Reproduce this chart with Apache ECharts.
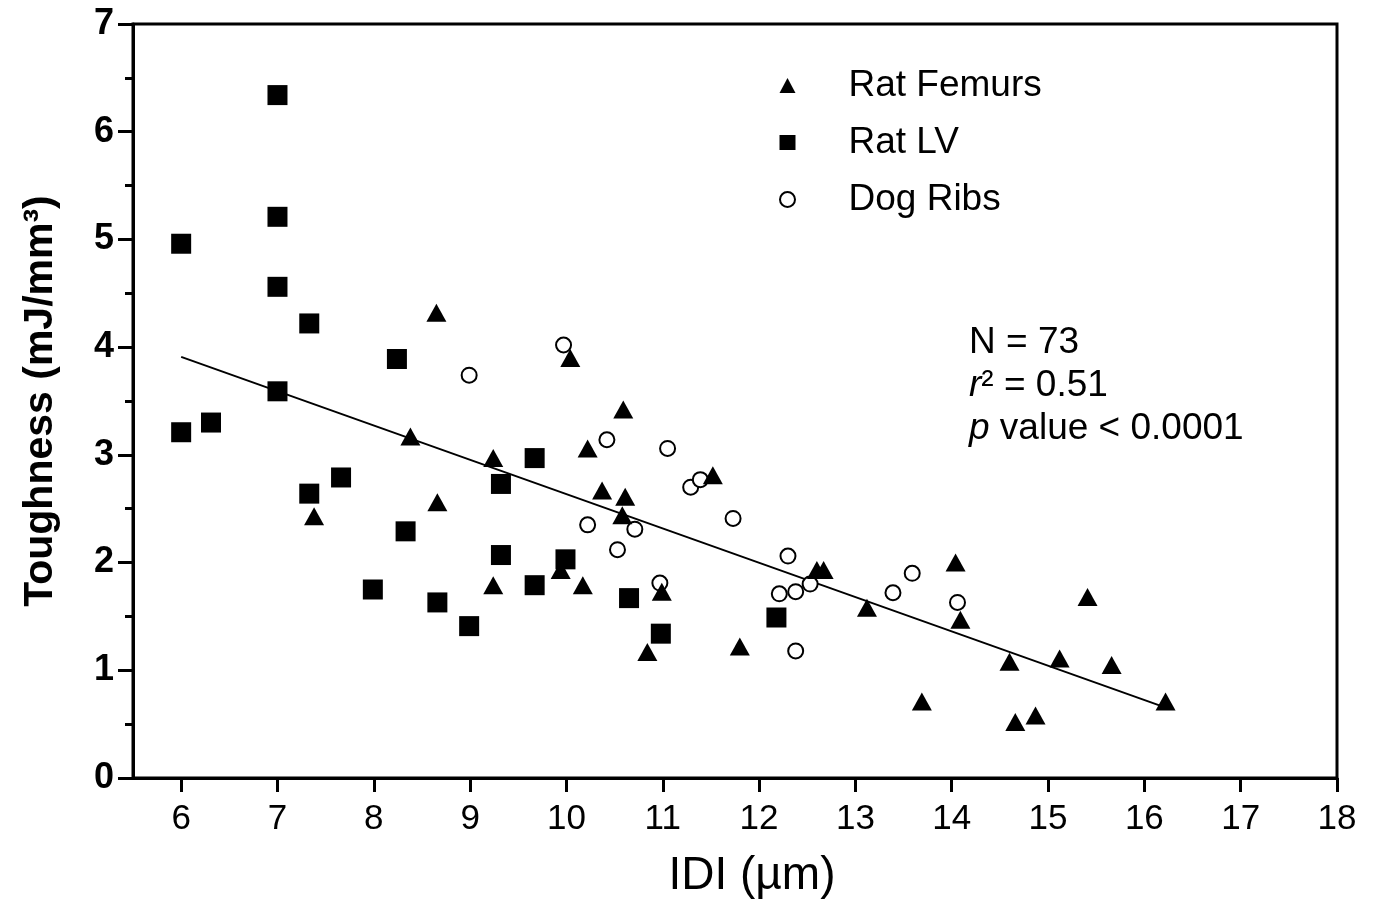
<!DOCTYPE html>
<html>
<head>
<meta charset="utf-8">
<script src="https://cdn.jsdelivr.net/npm/echarts@6/dist/echarts.min.js"></script>
<style>
  html, body { margin: 0; padding: 0; background: #fff; }
  #main { width: 1374px; height: 916px; }
</style>
</head>
<body>
<div id="main"></div>
<script>
// IDI (um) vs toughness (mJ/mm3)
var ratFemurs = [
  [8.65, 4.32], [8.38, 3.17], [7.38, 2.43], [8.66, 2.56], [9.24, 2.97],
  [9.24, 1.79], [10.04, 3.90], [10.59, 3.42], [10.22, 3.06], [10.37, 2.67],
  [10.61, 2.61], [10.58, 2.44], [11.52, 2.81], [9.94, 1.93], [10.17, 1.79],
  [10.99, 1.73], [10.84, 1.17], [11.80, 1.22], [12.60, 1.93], [12.67, 1.93],
  [13.12, 1.58], [14.04, 2.00], [14.09, 1.47], [13.69, 0.71], [14.60, 1.08],
  [14.66, 0.52], [14.87, 0.58], [15.12, 1.11], [15.41, 1.68], [15.66, 1.05],
  [16.22, 0.71]
];
var ratLV = [
  [6.00, 4.96], [6.00, 3.21], [6.31, 3.30], [7.00, 6.34], [7.00, 5.21],
  [7.00, 4.56], [7.00, 3.59], [7.33, 4.22], [7.33, 2.64], [7.66, 2.79],
  [8.24, 3.89], [7.99, 1.75], [8.33, 2.29], [8.66, 1.63], [8.99, 1.41],
  [9.32, 2.73], [9.32, 2.07], [9.67, 2.97], [9.67, 1.79], [9.99, 2.03],
  [10.65, 1.67], [10.98, 1.34], [12.18, 1.49]
];
var dogRibs = [
  [8.99, 3.74], [9.97, 4.02], [10.42, 3.14], [11.05, 3.06], [11.29, 2.70],
  [11.39, 2.77], [11.73, 2.41], [10.22, 2.35], [10.71, 2.31], [10.53, 2.12],
  [10.97, 1.81], [12.30, 2.06], [12.21, 1.71], [12.38, 1.73], [12.53, 1.80],
  [12.38, 1.18], [13.39, 1.72], [13.59, 1.90], [14.06, 1.63]
];
// regression line end points
var fitLine = [[6.0, 3.91], [16.2, 0.66]];
var xTicks = [6, 7, 8, 9, 10, 11, 12, 13, 14, 15, 16, 17, 18];
var statLines = ['N = 73', '{i|r}² = 0.51', '{i|p} value < 0.0001'];

var font = 'Liberation Sans, Arial, sans-serif';
var chart = echarts.init(document.getElementById('main'));

chart.setOption({
  animation: false,
  backgroundColor: '#fff',
  textStyle: { fontFamily: font, color: '#000' },
  grid: {
    left: 133, right: 37, top: 24, bottom: 138,
    show: true, borderColor: '#000', borderWidth: 3
  },
  xAxis: {
    type: 'value', min: 5.5, max: 18,
    name: 'IDI (µm)', nameLocation: 'middle', nameGap: 75,
    nameTextStyle: { fontSize: 46, color: '#000', padding: [0, 0, 0, 34] },
    axisLine: { show: true, onZero: false, lineStyle: { color: '#000', width: 3 } },
    axisTick: { show: true, customValues: xTicks, length: 14, lineStyle: { color: '#000', width: 3 } },
    axisLabel: { customValues: xTicks, fontSize: 35, color: '#000', margin: 24 },
    splitLine: { show: false }
  },
  yAxis: {
    type: 'value', min: 0, max: 7, interval: 1,
    name: 'Toughness (mJ/mm³)', nameLocation: 'middle', nameGap: 72,
    nameTextStyle: { fontSize: 41, fontWeight: 'bold', color: '#000' },
    axisLine: { show: true, lineStyle: { color: '#000', width: 3 } },
    axisTick: { show: true, length: 15, lineStyle: { color: '#000', width: 3 } },
    minorTick: { show: true, splitNumber: 2, length: 8, lineStyle: { color: '#000', width: 3 } },
    axisLabel: { fontSize: 36, fontWeight: 'bold', color: '#000', margin: 19 },
    splitLine: { show: false }
  },
  legend: {
    orient: 'vertical', left: 779, top: 67, padding: 0,
    itemWidth: 16, itemHeight: 15, itemGap: 20,
    textStyle: { fontSize: 37, color: '#000', lineHeight: 37, padding: [0, 0, 0, 48] },
    data: [
      { name: 'Rat Femurs', icon: 'triangle' },
      { name: 'Rat LV', icon: 'rect' },
      { name: 'Dog Ribs', icon: 'emptyCircle' }
    ]
  },
  graphic: [{
    type: 'text', left: 969, top: 321,
    style: {
      text: statLines.join('\n'),
      font: '37px ' + font, fill: '#000', lineHeight: 43,
      rich: { i: { fontStyle: 'italic', fontSize: 37, fontFamily: font } }
    }
  }],
  series: [
    {
      name: 'fit', type: 'line', data: fitLine, symbol: 'none', z: 1,
      lineStyle: { color: '#000', width: 2 }, silent: true
    },
    {
      name: 'Dog Ribs', type: 'scatter', data: dogRibs, z: 2,
      symbol: 'emptyCircle', symbolSize: 15,
      itemStyle: { color: '#000', borderWidth: 2.5, opacity: 1 }
    },
    {
      name: 'Rat Femurs', type: 'scatter', data: ratFemurs, z: 3,
      symbol: 'triangle', symbolSize: [20, 18],
      itemStyle: { color: '#000', opacity: 1 }
    },
    {
      name: 'Rat LV', type: 'scatter', data: ratLV, z: 3,
      symbol: 'rect', symbolSize: 20,
      itemStyle: { color: '#000', opacity: 1 }
    }
  ]
});
</script>
</body>
</html>
